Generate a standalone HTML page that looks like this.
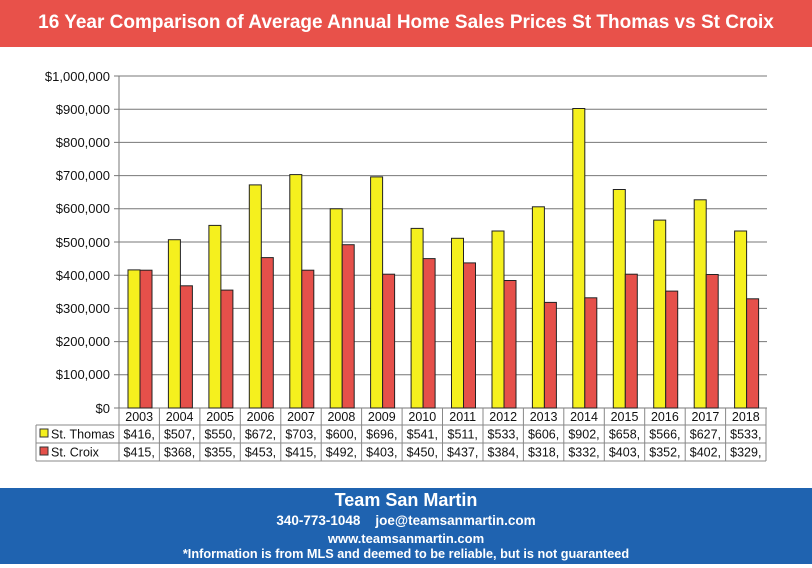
<!DOCTYPE html>
<html><head><meta charset="utf-8"><style>
body{margin:0;background:#fff;width:812px;height:568px;overflow:hidden;font-family:"Liberation Sans",Arial,sans-serif}
.hdr{position:absolute;left:0;top:0;width:812px;height:47px;background:#e8514a;color:#fff;font-size:19px;font-weight:bold;text-align:center;line-height:46px}
.ftr{position:absolute;left:0;top:488px;width:812px;height:76px;background:#1f63b0;color:#fff;text-align:center;font-weight:bold}
</style></head><body>
<div class="hdr">16 Year Comparison of Average Annual Home Sales Prices St Thomas vs St Croix</div>
<svg style="position:absolute;left:0;top:0" width="812" height="568" font-family="Liberation Sans, Arial, sans-serif">
<g stroke="#777" stroke-width="1">
<line x1="114" x2="767" y1="76" y2="76"/><line x1="114" x2="767" y1="109.2" y2="109.2"/><line x1="114" x2="767" y1="142.4" y2="142.4"/><line x1="114" x2="767" y1="175.6" y2="175.6"/><line x1="114" x2="767" y1="208.8" y2="208.8"/><line x1="114" x2="767" y1="242" y2="242"/><line x1="114" x2="767" y1="275.2" y2="275.2"/><line x1="114" x2="767" y1="308.4" y2="308.4"/><line x1="114" x2="767" y1="341.6" y2="341.6"/><line x1="114" x2="767" y1="374.8" y2="374.8"/><line x1="114" x2="767" y1="408" y2="408"/>
<line x1="119" x2="119" y1="76" y2="408"/>
</g>
<g font-size="13" fill="#111" text-anchor="end">
<text x="110" y="81">$1,000,000</text><text x="110" y="114">$900,000</text><text x="110" y="147">$800,000</text><text x="110" y="180">$700,000</text><text x="110" y="213">$600,000</text><text x="110" y="247">$500,000</text><text x="110" y="280">$400,000</text><text x="110" y="313">$300,000</text><text x="110" y="346">$200,000</text><text x="110" y="379">$100,000</text><text x="110" y="413">$0</text>
</g>
<g transform="translate(0,408) scale(1,-1)" stroke="#222" stroke-width="1">
<g fill="#f5f01e">
<rect x="128" width="12" height="138.1"/><rect x="168.4" width="12" height="168.3"/><rect x="208.9" width="12" height="182.6"/><rect x="249.3" width="12" height="223.1"/><rect x="289.8" width="12" height="233.4"/><rect x="330.2" width="12" height="199.2"/><rect x="370.6" width="12" height="231.1"/><rect x="411.1" width="12" height="179.6"/><rect x="451.5" width="12" height="169.7"/><rect x="492" width="12" height="177"/><rect x="532.4" width="12" height="201.2"/><rect x="572.8" width="12" height="299.5"/><rect x="613.3" width="12" height="218.5"/><rect x="653.7" width="12" height="187.9"/><rect x="694.2" width="12" height="208.2"/><rect x="734.6" width="12" height="177"/>
</g>
<g fill="#e5504a">
<rect x="140" width="12" height="137.8"/><rect x="180.4" width="12" height="122.2"/><rect x="220.9" width="12" height="117.9"/><rect x="261.3" width="12" height="150.4"/><rect x="301.8" width="12" height="137.8"/><rect x="342.2" width="12" height="163.3"/><rect x="382.6" width="12" height="133.8"/><rect x="423.1" width="12" height="149.4"/><rect x="463.5" width="12" height="145.1"/><rect x="504" width="12" height="127.5"/><rect x="544.4" width="12" height="105.6"/><rect x="584.8" width="12" height="110.2"/><rect x="625.3" width="12" height="133.8"/><rect x="665.7" width="12" height="116.9"/><rect x="706.2" width="12" height="133.5"/><rect x="746.6" width="12" height="109.2"/>
</g>
</g>
<g stroke="#888" stroke-width="1" fill="none">
<line x1="36" x2="766" y1="425" y2="425"/><line x1="36" x2="766" y1="443" y2="443"/><line x1="36" x2="766" y1="461" y2="461"/>
<line x1="36" x2="36" y1="425" y2="461"/><line x1="766" x2="766" y1="408" y2="461"/>
<line x1="119" x2="119" y1="408" y2="461"/><line x1="159.4" x2="159.4" y1="408" y2="461"/><line x1="199.9" x2="199.9" y1="408" y2="461"/><line x1="240.3" x2="240.3" y1="408" y2="461"/><line x1="280.8" x2="280.8" y1="408" y2="461"/><line x1="321.2" x2="321.2" y1="408" y2="461"/><line x1="361.6" x2="361.6" y1="408" y2="461"/><line x1="402.1" x2="402.1" y1="408" y2="461"/><line x1="442.5" x2="442.5" y1="408" y2="461"/><line x1="483" x2="483" y1="408" y2="461"/><line x1="523.4" x2="523.4" y1="408" y2="461"/><line x1="563.8" x2="563.8" y1="408" y2="461"/><line x1="604.3" x2="604.3" y1="408" y2="461"/><line x1="644.7" x2="644.7" y1="408" y2="461"/><line x1="685.2" x2="685.2" y1="408" y2="461"/><line x1="725.6" x2="725.6" y1="408" y2="461"/>
</g>
<rect x="40" y="429" width="8" height="8" fill="#f5f01e" stroke="#333"/>
<rect x="40" y="447" width="8" height="8" fill="#e5504a" stroke="#333"/>
<g font-size="12.5" fill="#111">
<text x="51" y="438.5">St. Thomas</text><text x="51" y="456.5">St. Croix</text>
</g>
<g font-size="12.5" fill="#111" text-anchor="middle">
<text x="139.2" y="421">2003</text><text x="179.6" y="421">2004</text><text x="220.1" y="421">2005</text><text x="260.5" y="421">2006</text><text x="301" y="421">2007</text><text x="341.4" y="421">2008</text><text x="381.8" y="421">2009</text><text x="422.3" y="421">2010</text><text x="462.7" y="421">2011</text><text x="503.2" y="421">2012</text><text x="543.6" y="421">2013</text><text x="584" y="421">2014</text><text x="624.5" y="421">2015</text><text x="664.9" y="421">2016</text><text x="705.4" y="421">2017</text><text x="745.8" y="421">2018</text>
<text x="139.2" y="438.5">$416,</text><text x="179.6" y="438.5">$507,</text><text x="220.1" y="438.5">$550,</text><text x="260.5" y="438.5">$672,</text><text x="301" y="438.5">$703,</text><text x="341.4" y="438.5">$600,</text><text x="381.8" y="438.5">$696,</text><text x="422.3" y="438.5">$541,</text><text x="462.7" y="438.5">$511,</text><text x="503.2" y="438.5">$533,</text><text x="543.6" y="438.5">$606,</text><text x="584" y="438.5">$902,</text><text x="624.5" y="438.5">$658,</text><text x="664.9" y="438.5">$566,</text><text x="705.4" y="438.5">$627,</text><text x="745.8" y="438.5">$533,</text>
<text x="139.2" y="456.5">$415,</text><text x="179.6" y="456.5">$368,</text><text x="220.1" y="456.5">$355,</text><text x="260.5" y="456.5">$453,</text><text x="301" y="456.5">$415,</text><text x="341.4" y="456.5">$492,</text><text x="381.8" y="456.5">$403,</text><text x="422.3" y="456.5">$450,</text><text x="462.7" y="456.5">$437,</text><text x="503.2" y="456.5">$384,</text><text x="543.6" y="456.5">$318,</text><text x="584" y="456.5">$332,</text><text x="624.5" y="456.5">$403,</text><text x="664.9" y="456.5">$352,</text><text x="705.4" y="456.5">$402,</text><text x="745.8" y="456.5">$329,</text>
</g>
</svg>
<div class="ftr">
<div style="font-size:18px;position:absolute;top:2px;width:100%">Team San Martin</div>
<div style="font-size:13.5px;position:absolute;top:25px;width:100%">340-773-1048&nbsp;&nbsp;&nbsp;&nbsp;joe@teamsanmartin.com</div>
<div style="font-size:13px;position:absolute;top:43px;width:100%">www.teamsanmartin.com</div>
<div style="font-size:12.7px;position:absolute;top:59px;width:100%">*Information is from MLS and deemed to be reliable, but is not guaranteed</div>
</div>
</body></html>
